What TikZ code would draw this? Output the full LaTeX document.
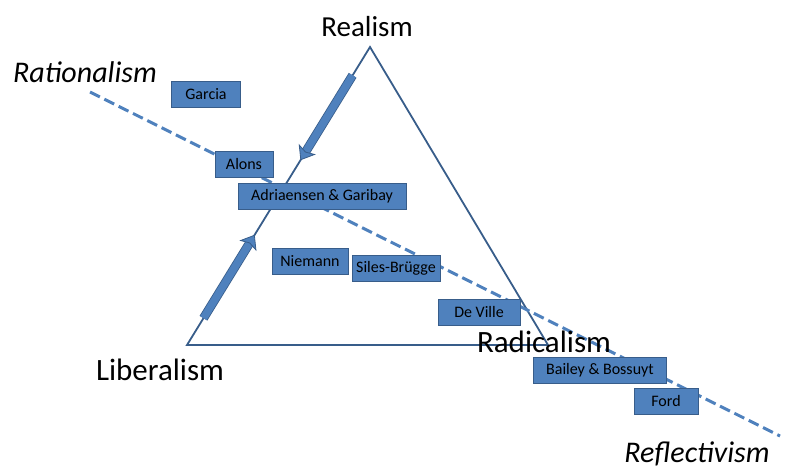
\documentclass[tikz,border=0pt]{standalone}
\usepackage{fontspec}
\setmainfont{Carlito}
\usepackage{tikz}
\usetikzlibrary{positioning,arrows.meta}
\definecolor{boxblue}{HTML}{4F81BD}
\definecolor{edgeblue}{HTML}{385D8A}

\begin{document}
\begin{tikzpicture}[x=1pt, y=-1pt,
    author/.style={draw=edgeblue, line width=0.8pt, fill=boxblue, minimum height=26pt, inner sep=0pt, font=\fontsize{16}{18}\selectfont},
    pole/.style={font=\fontsize{30}{35}\selectfont, inner sep=0pt},
    move/.style={-{Stealth[width=20pt,length=13pt,inset=3pt,fill=boxblue]}, draw=edgeblue, line width=0.8pt, double=boxblue, double distance=7.5pt, line cap=butt}]
    \useasboundingbox (0,0) rectangle (794,471);

    \coordinate (top) at (370,47);
    \coordinate (left) at (187,345);
    \coordinate (right) at (548,345);
    \coordinate (ra) at (90,92);
    \coordinate (re) at (780,436);

    \draw[edgeblue, line width=1.8pt] (top) -- (left) -- (right) -- cycle;
    \draw[boxblue, line width=3pt, dash pattern=on 11pt off 5pt] (ra) -- (re);

    % frecce sul lato sinistro
    \path (top) -- (left) coordinate[pos=0.095] (a1) coordinate[pos=0.38] (a2)
        coordinate[pos=0.91] (b1) coordinate[pos=0.63] (b2);
    \draw[move] (a1) -- (a2);
    \draw[move] (b1) -- (b2);

    \node[author, minimum width=69pt] (garcia) at (206,94) {Garcia};
    \node[author, minimum width=58pt] (alons) at (244,164) {Alons};
    \node[author, minimum width=168pt] (adriaensen) at (322,196) {Adriaensen \& Garibay};
    \node[author, minimum width=76pt] (niemann) at (310,261) {Niemann};
    \node[author, minimum width=88pt] (siles) at (396,268) {Siles-Brügge};
    \node[author, minimum width=82pt] (deville) at (479,312) {De Ville};
    \node[author, minimum width=133pt] (bailey) at (600,370) {Bailey \& Bossuyt};
    \node[author, minimum width=64pt] (ford) at (666,401) {Ford};

    \node[pole, font=\fontsize{29}{34}\selectfont] (realism) at (367,27) {Realism};
    \node[pole, font=\fontsize{30}{35}\selectfont\itshape] (rationalism) at (85,72) {Rationalism};
    \node[pole, font=\fontsize{31}{36}\selectfont] (liberalism) at (160,370) {Liberalism};
    \node[pole, font=\fontsize{31}{36}\selectfont] (radicalism) at (544,342) {Radicalism};
    \node[pole, font=\fontsize{30}{35}\selectfont\itshape] (reflectivism) at (697,454) {Reflectivism};
\end{tikzpicture}
\end{document}
